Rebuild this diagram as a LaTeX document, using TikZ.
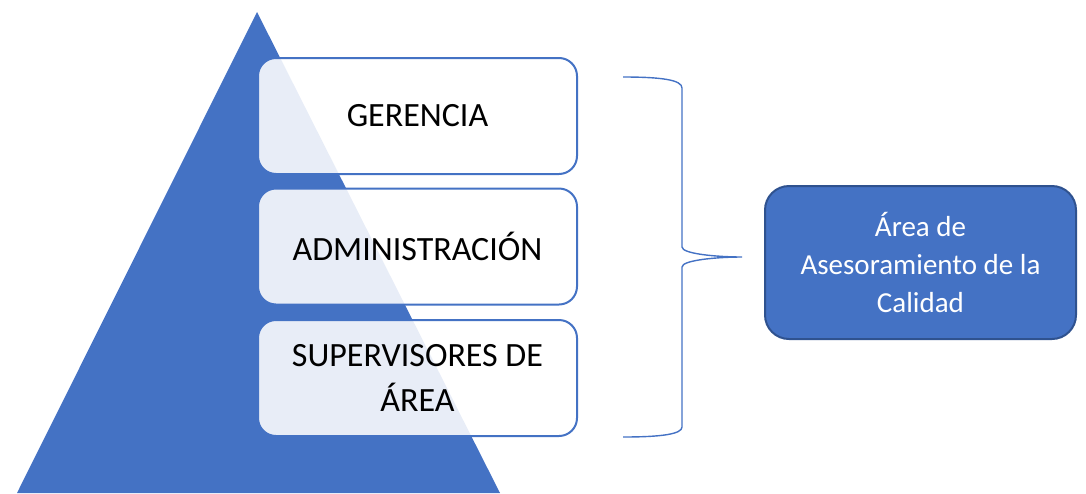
\documentclass[tikz,border=0pt]{standalone}
\usepackage{fontspec}
\setmainfont{Carlito}
\definecolor{accent}{HTML}{4472C4}
\definecolor{accentdark}{HTML}{2F528F}
\tikzset{
  level/.style={draw=accent, line width=2pt, fill=white, fill opacity=0.88, text opacity=1,
    rounded corners=18pt, minimum width=319pt, minimum height=116pt, inner sep=0pt,
    align=center, font=\fontsize{34pt}{45pt}\selectfont, text=black},
  advisor/.style={draw=accentdark, line width=2pt, fill=accent, rounded corners=24pt,
    minimum width=311pt, minimum height=153pt, inner sep=0pt, align=center,
    font=\fontsize{29pt}{38pt}\selectfont, text=white},
  bracestyle/.style={draw=accent, line width=1.4pt}
}
\begin{document}
\begin{tikzpicture}[x=1pt,y=-1pt]
\useasboundingbox (0,0) rectangle (1086,493);
% pyramid
\fill[accent] (257,12) -- (500,493) -- (17,493) -- cycle;
% levels
\node[level] (ger) at (417.5,116) {GERENCIA};
\node[level] (adm) at (417.5,246.5) {ADMINISTRACIÓN};
\node[level] (sup) at (417.5,378) {SUPERVISORES DE\\ÁREA};
% advisor box
\node[advisor] (cal) at (920.5,262.5) {Área de\\Asesoramiento de la\\Calidad};
% brace
\coordinate (btop) at (623,77);
\coordinate (bbot) at (623,437);
\coordinate (btip) at (742,257);
\draw[bracestyle] (btop) .. controls (662,77) and (682,80) .. (682,88)
  -- (682,247) .. controls (682,254) and (718,257) .. (btip)
  .. controls (718,257) and (682,260) .. (682,267)
  -- (682,427) .. controls (682,434) and (662,437) .. (bbot);
\end{tikzpicture}
\end{document}
